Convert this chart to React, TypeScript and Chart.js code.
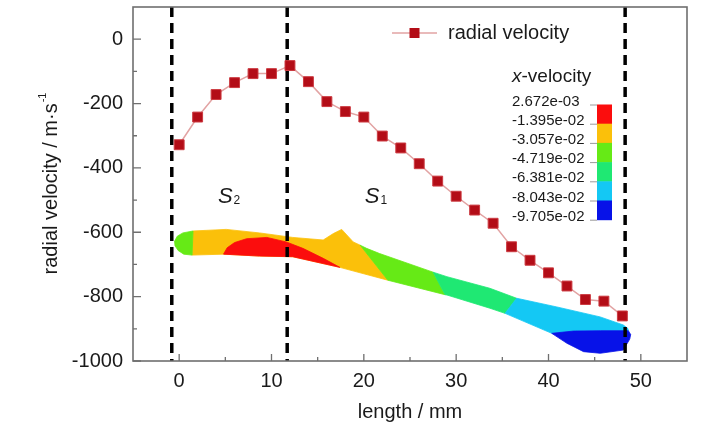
import React, { useEffect, useRef } from "react";
import { Chart, registerables } from "chart.js";
Chart.register(...registerables);

/** ---------- Data ---------- */
const lengthMm = [0, 2, 4, 6, 8, 10, 12, 14, 16, 18, 20, 22, 24, 26, 28, 30, 32, 34, 36, 38, 40, 42, 44, 46, 48];
const radialVelocity = [
  -328, -242, -172, -135, -107, -107, -82, -132, -194, -225, -242, -301, -338, -387, -441, -488, -531, -572, -645,
  -687, -726, -767, -809, -814, -860,
];
const dividerX = [-0.8, 11.7, 48.3];
const xTickLabels = [0, 10, 20, 30, 40, 50];
const xMinorTicks = [5, 15, 25, 35, 45];
const yTickLabels = [0, -200, -400, -600, -800, -1000];
const yMinorTicks = [-100, -300, -500, -700, -900];

// colour legend of the x-velocity contour
const cbLabels = ["2.672e-03", "-1.395e-02", "-3.057e-02", "-4.719e-02", "-6.381e-02", "-8.043e-02", "-9.705e-02"];
const cbColors = ["#fb0d0d", "#fbc00a", "#66ea16", "#1fe873", "#14c8f4", "#0712e8"];

// region labels S2 / S1 (length, velocity)
const regionLabels = [
  { main: "S", sub: "2", x: 4.2, y: -510 },
  { main: "S", sub: "1", x: 20.1, y: -510 },
];

// contour patches of the overlaid weld band, vertices in (length, velocity)
const patchOrange: [number, number][] = [
  [1.5, -596], [5.1, -591], [8.7, -602], [12.3, -616], [15.6, -624], [16.7, -604], [17.6, -591], [18.85, -630],
  [19.6, -640], [22.6, -749], [17.4, -709], [12.3, -676], [8.7, -674], [4.8, -668], [1.4, -671],
];
const patchGreenTip: [number, number][] = [
  [-0.5, -628], [-0.2, -612], [0.4, -602], [1.5, -596], [1.4, -671], [0.5, -668], [-0.1, -657], [-0.45, -642],
];
const patchRed: [number, number][] = [
  [4.8, -668], [5.2, -648], [6.0, -632], [7.3, -620], [9.5, -616], [11.6, -630], [13.4, -650], [15.6, -681],
  [17.4, -709], [12.3, -676], [8.7, -674],
];
const patchGreen: [number, number][] = [
  [19.6, -640], [20.3, -650], [21.7, -666], [27.5, -724], [28.8, -794], [22.6, -749],
];
const patchSpring: [number, number][] = [
  [27.5, -724], [29.0, -738], [33.65, -774], [36.55, -805], [35.3, -852], [33.65, -836], [29.0, -795], [28.8, -794],
];
const patchCyan: [number, number][] = [
  [36.55, -805], [40.9, -832], [45.6, -863], [48.1, -888], [48.6, -899], [48.65, -906], [45.6, -906], [42.7, -907],
  [40.35, -914], [35.3, -852],
];
const patchBlue: [number, number][] = [
  [40.35, -914], [42.7, -907], [45.6, -906], [48.65, -906], [48.9, -918], [48.8, -932], [48.1, -966], [45.6, -976],
  [43.8, -971], [42.0, -945],
];
const bandPatches = [
  { color: cbColors[1], pts: patchOrange },
  { color: cbColors[2], pts: patchGreenTip },
  { color: cbColors[0], pts: patchRed },
  { color: cbColors[2], pts: patchGreen },
  { color: cbColors[3], pts: patchSpring },
  { color: cbColors[4], pts: patchCyan },
  { color: cbColors[5], pts: patchBlue },
];

const FONT = '"Liberation Sans", Arial, Helvetica, sans-serif';
const TEXT = "#1a1a1a";
const FRAME = "#6f6f6f";
const MARKER = "#b30d17";
const LINE = "#e2a3a3";

/** ---------- Overlay plugin: contour band, frame, ticks, legends, titles ---------- */
const overlayPlugin = {
  id: "overlay",
  beforeDatasetsDraw(chart: any) {
    const { ctx, scales } = chart;
    const xs = scales.x;
    const ys = scales.y;
    ctx.save();
    bandPatches.forEach((p) => {
      ctx.beginPath();
      p.pts.forEach(([vx, vy], i) => {
        const px = xs.getPixelForValue(vx);
        const py = ys.getPixelForValue(vy);
        if (i === 0) ctx.moveTo(px, py);
        else ctx.lineTo(px, py);
      });
      ctx.closePath();
      ctx.fillStyle = p.color;
      ctx.strokeStyle = p.color;
      ctx.lineWidth = 0.8;
      ctx.fill();
      ctx.stroke();
    });
    ctx.restore();
  },
  afterDraw(chart: any) {
    const { ctx, chartArea: a, scales } = chart;
    const xs = scales.x;
    const ys = scales.y;
    ctx.save();

    // frame
    ctx.strokeStyle = FRAME;
    ctx.lineWidth = 1.6;
    ctx.strokeRect(a.left, a.top, a.right - a.left, a.bottom - a.top);

    // inward ticks
    ctx.lineWidth = 1.3;
    ctx.beginPath();
    yTickLabels.forEach((v) => {
      const py = ys.getPixelForValue(v);
      ctx.moveTo(a.left, py);
      ctx.lineTo(a.left + 8, py);
    });
    yMinorTicks.forEach((v) => {
      const py = ys.getPixelForValue(v);
      ctx.moveTo(a.left, py);
      ctx.lineTo(a.left + 4, py);
    });
    xTickLabels.forEach((v) => {
      const px = xs.getPixelForValue(v);
      ctx.moveTo(px, a.bottom);
      ctx.lineTo(px, a.bottom - 7);
    });
    xMinorTicks.forEach((v) => {
      const px = xs.getPixelForValue(v);
      ctx.moveTo(px, a.bottom);
      ctx.lineTo(px, a.bottom - 4);
    });
    ctx.stroke();

    // S2 / S1 labels
    ctx.fillStyle = TEXT;
    ctx.textBaseline = "alphabetic";
    ctx.textAlign = "left";
    regionLabels.forEach((l) => {
      const px = xs.getPixelForValue(l.x);
      const py = ys.getPixelForValue(l.y);
      ctx.font = `italic 22px ${FONT}`;
      ctx.fillText(l.main, px, py);
      const w = ctx.measureText(l.main).width;
      ctx.font = `12px ${FONT}`;
      ctx.fillText(l.sub, px + w + 1, py + 1);
    });

    // legend: radial velocity
    const lx = a.left + 259;
    const ly = a.top + 26;
    ctx.strokeStyle = LINE;
    ctx.lineWidth = 1.5;
    ctx.beginPath();
    ctx.moveTo(lx, ly);
    ctx.lineTo(lx + 45, ly);
    ctx.stroke();
    ctx.fillStyle = MARKER;
    ctx.fillRect(lx + 17.5, ly - 5, 10, 10);
    ctx.fillStyle = TEXT;
    ctx.font = `20px ${FONT}`;
    ctx.textBaseline = "middle";
    ctx.fillText("radial velocity", lx + 56, ly);

    // colour bar legend
    const cbx = a.left + 379;
    ctx.font = `italic 19px ${FONT}`;
    ctx.fillText("x", cbx, 77);
    const xw = ctx.measureText("x").width;
    ctx.font = `19px ${FONT}`;
    ctx.fillText("-velocity", cbx + xw, 77);
    const barX = a.left + 464;
    const barTop = 104.5;
    const step = 19.2;
    cbColors.forEach((c, i) => {
      ctx.fillStyle = c;
      ctx.fillRect(barX, barTop + i * step, 15, step + 0.5);
    });
    ctx.font = `15px ${FONT}`;
    ctx.fillStyle = TEXT;
    ctx.strokeStyle = "#9a9a9a";
    ctx.lineWidth = 1;
    cbLabels.forEach((t, i) => {
      const ty = barTop + i * step;
      ctx.fillText(t, cbx, ty - 3);
      ctx.beginPath();
      ctx.moveTo(barX - 7, ty + 0.5);
      ctx.lineTo(barX, ty + 0.5);
      ctx.stroke();
    });

    // axis titles
    ctx.fillStyle = TEXT;
    ctx.textAlign = "center";
    ctx.font = `20px ${FONT}`;
    ctx.fillText("length / mm", (a.left + a.right) / 2, 412);

    ctx.translate(51, (a.top + a.bottom) / 2);
    ctx.rotate(-Math.PI / 2);
    ctx.textAlign = "left";
    const main = "radial velocity / m·s";
    const mw = ctx.measureText(main).width;
    ctx.font = `11px ${FONT}`;
    const sw = ctx.measureText("-1").width;
    const start = -(mw + sw) / 2;
    ctx.font = `20px ${FONT}`;
    ctx.fillText(main, start, 0);
    ctx.font = `11px ${FONT}`;
    ctx.fillText("-1", start + mw + 1, -8);

    ctx.restore();
  },
};

/** ---------- Component ---------- */
const App: React.FC = () => {
  const canvasRef = useRef<HTMLCanvasElement | null>(null);

  useEffect(() => {
    document.body.style.margin = "0";
    const canvas = canvasRef.current;
    if (!canvas) return;

    const series = lengthMm.map((x, i) => ({ x, y: radialVelocity[i] }));
    const dividers = dividerX.map((d) => ({
      type: "line" as const,
      data: [
        { x: d, y: 100 },
        { x: d, y: -1000 },
      ],
      borderColor: "#000",
      borderWidth: 3.5,
      borderDash: [10, 6],
      pointRadius: 0,
      order: 1,
    }));

    const chart = new Chart(canvas, {
      type: "line",
      data: {
        datasets: [
          {
            label: "radial velocity",
            data: series,
            borderColor: LINE,
            borderWidth: 1.5,
            pointStyle: "rect",
            pointRadius: 7,
            pointBackgroundColor: MARKER,
            pointBorderColor: "#cc3a40",
            pointBorderWidth: 1,
            order: 0,
          },
          ...dividers,
        ] as any,
      },
      options: {
        responsive: true,
        maintainAspectRatio: false,
        animation: false,
        layout: { autoPadding: false, padding: { left: 0, top: 7, right: 41, bottom: 0 } },
        plugins: { legend: { display: false }, tooltip: { enabled: false } },
        scales: {
          x: {
            type: "linear",
            min: -5,
            max: 55,
            grid: { display: false, drawTicks: false },
            border: { display: false },
            afterFit: (s: any) => {
              s.height = 63;
              s.paddingLeft = 0;
              s.paddingRight = 0;
            },
            ticks: {
              stepSize: 5,
              autoSkip: false,
              maxRotation: 0,
              padding: 8,
              color: TEXT,
              font: { family: FONT, size: 20 },
              callback: (v: any) => (xTickLabels.includes(Number(v)) ? String(v) : ""),
            },
          },
          y: {
            type: "linear",
            min: -1000,
            max: 100,
            grid: { display: false, drawTicks: false },
            border: { display: false },
            afterFit: (s: any) => {
              s.width = 133;
              s.paddingTop = 0;
              s.paddingBottom = 0;
            },
            ticks: {
              stepSize: 100,
              autoSkip: false,
              padding: 10,
              color: TEXT,
              font: { family: FONT, size: 20 },
              callback: (v: any) => (yTickLabels.includes(Number(v)) ? String(v) : ""),
            },
          },
        },
      },
      plugins: [overlayPlugin],
    });

    return () => chart.destroy();
  }, []);

  return (
    <div style={{ position: "absolute", left: 0, top: 0, width: 728, height: 424, background: "#fff" }}>
      <canvas ref={canvasRef} />
    </div>
  );
};

export default App;
